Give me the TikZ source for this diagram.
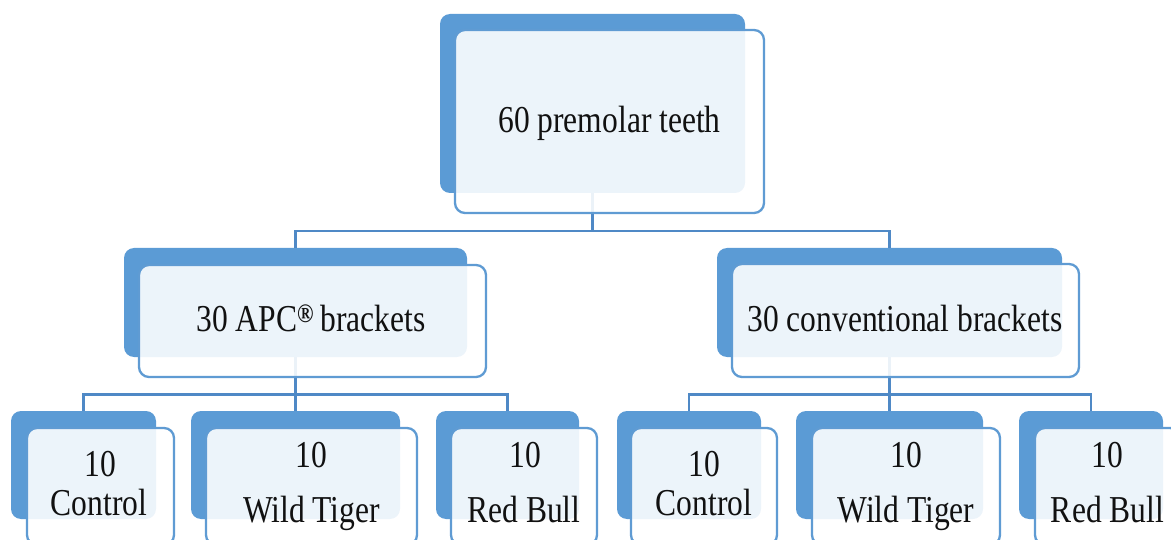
\documentclass[tikz,border=0pt]{standalone}
\usepackage{fontspec}
\setmainfont[FakeStretch=0.83]{Liberation Serif}
\definecolor{bblue}{HTML}{5B9BD5}
\definecolor{fblue}{HTML}{5F9BD3}
\definecolor{cblue}{HTML}{4F89C6}
\definecolor{txtc}{HTML}{111111}
\begin{document}
\begin{tikzpicture}[x=1pt,y=-1pt,
  backbox/.style={draw=none, fill=bblue, rounded corners=10pt, inner sep=0pt},
  frontbox/.style={draw=fblue, line width=2.3pt, fill=white, fill opacity=0.89, rounded corners=10pt, inner sep=0pt},
  conn/.style={draw=cblue, line width=2.6pt},
  txt/.style={font=\fontsize{38}{44}\selectfont, text=txtc, inner sep=0pt, anchor=base}]
\useasboundingbox (0,0) rectangle (1171,540);
\clip (0,0) rectangle (1171,540);
% back boxes
\node[backbox, minimum width=305pt, minimum height=179pt] (tB) at (592.5,103.5) {};
\node[backbox, minimum width=343pt, minimum height=109pt] (aB) at (295.5,302.5) {};
\node[backbox, minimum width=345pt, minimum height=109pt] (cB) at (889.5,302.5) {};
\node[backbox, minimum width=145pt, minimum height=108pt] (a1B) at (83.5,465) {};
\node[backbox, minimum width=209pt, minimum height=108pt] (a2B) at (295.5,465) {};
\node[backbox, minimum width=143pt, minimum height=108pt] (a3B) at (507.5,465) {};
\node[backbox, minimum width=144pt, minimum height=108pt] (c1B) at (689,465) {};
\node[backbox, minimum width=187pt, minimum height=108pt] (c2B) at (889.5,465) {};
\node[backbox, minimum width=144pt, minimum height=108pt] (c3B) at (1091,465) {};
% connectors
\draw[conn] (tB.south) -- ++(0,38) -| (aB.north);
\draw[conn] (tB.south) -- ++(0,38) -| (cB.north);
\draw[conn] (aB.south) -- ++(0,37) -| (a1B.north);
\draw[conn] (aB.south) -- (a2B.north);
\draw[conn] (aB.south) -- ++(0,37) -| (a3B.north);
\draw[conn] (cB.south) -- ++(0,37) -| (c1B.north);
\draw[conn] (cB.south) -- (c2B.north);
\draw[conn] (cB.south) -- ++(0,37) -| (c3B.north);
% front boxes
\node[frontbox, minimum width=309pt, minimum height=183pt] (tF) at (609.5,121.5) {};
\node[frontbox, minimum width=347pt, minimum height=112pt] (aF) at (312.5,321) {};
\node[frontbox, minimum width=347pt, minimum height=113pt] (cF) at (905.5,320.5) {};
\node[frontbox, minimum width=147pt, minimum height=117pt] (a1F) at (100.5,486.5) {};
\node[frontbox, minimum width=211pt, minimum height=117pt] (a2F) at (311.5,486.5) {};
\node[frontbox, minimum width=146pt, minimum height=117pt] (a3F) at (524,486.5) {};
\node[frontbox, minimum width=146pt, minimum height=117pt] (c1F) at (704,486.5) {};
\node[frontbox, minimum width=188pt, minimum height=117pt] (c2F) at (906,486.5) {};
\node[frontbox, minimum width=145pt, minimum height=117pt] (c3F) at (1107.5,486.5) {};
% texts
\node[txt] (tT) at (609.5,133) {60 premolar teeth};
\node[txt] (aT) at (311,332) {30 APC\textsuperscript{\bfseries ®}\,brackets};
\node[txt] (cT) at (905,332) {30 conventional brackets};
\node[txt] (a1T) at (100,476) {10};
\node[txt] (a1U) at (99,515) {Control};
\node[txt] (a2T) at (311.5,467) {10};
\node[txt] (a2U) at (311.5,522) {Wild Tiger};
\node[txt] (a3T) at (525,467) {10};
\node[txt] (a3U) at (524,522) {Red Bull};
\node[txt] (c1T) at (704,476) {10};
\node[txt] (c1U) at (704,515) {Control};
\node[txt] (c2T) at (906,467) {10};
\node[txt] (c2U) at (906,522) {Wild Tiger};
\node[txt] (c3T) at (1107.5,467) {10};
\node[txt] (c3U) at (1107.5,522) {Red Bull};
\end{tikzpicture}
\end{document}
